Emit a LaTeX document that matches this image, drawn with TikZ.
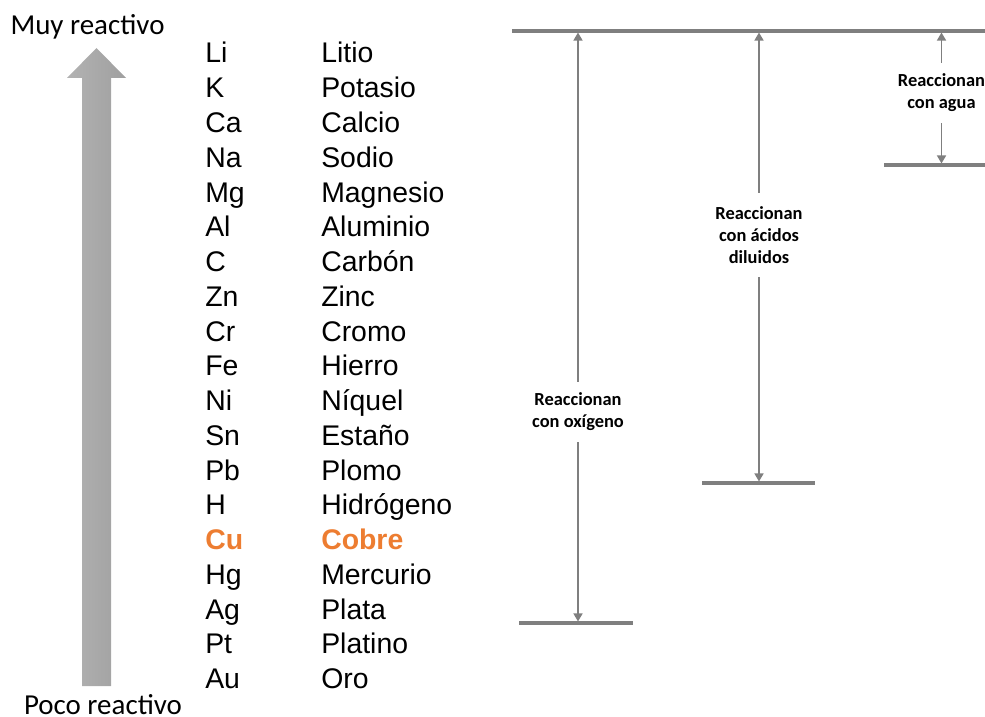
\documentclass[tikz,border=0pt]{standalone}
\usepackage{fontspec}
\setmainfont{Liberation Sans}
\newfontfamily\calibri{Carlito}
\usetikzlibrary{arrows.meta}

\definecolor{linegray}{HTML}{7F7F7F}
\definecolor{cuorange}{HTML}{ED7D31}

\tikzset{
  elem/.style={anchor=base west, inner sep=0pt, font=\fontsize{21.3}{25}\selectfont},
  elemcu/.style={elem, text=cuorange, font=\fontsize{21.3}{25}\selectfont\bfseries},
  side/.style={anchor=base, inner sep=0pt, font=\calibri\fontsize{21.7}{26}\selectfont},
  lab/.style={align=center, inner sep=0pt, font=\calibri\bfseries\fontsize{13.8}{16.4}\selectfont},
  bar/.style={draw=linegray, line width=2.3pt},
  conn/.style={draw=linegray, line width=1.1pt, -{Triangle[width=6.75pt, length=6pt]}},
}

\begin{document}
\begin{tikzpicture}[x=0.75pt, y=-0.75pt]
\useasboundingbox (0,0) rectangle (985,717);

% reactivity arrow
\shade[left color=gray!60, right color=gray!75]
  (82,686) -- (82,78) -- (67,78) -- (96.5,48) -- (126,78) -- (111,78) -- (111,686) -- cycle;
\node[side] (muy) at (87.5,35) {Muy reactivo};
\node[side] (poco) at (103,714) {Poco reactivo};

% reactivity series
\foreach \s/\n/\st [count=\i from 0] in {
  Li/Litio/elem, K/Potasio/elem, Ca/Calcio/elem, Na/Sodio/elem,
  Mg/Magnesio/elem, Al/Aluminio/elem, C/Carbón/elem, Zn/Zinc/elem,
  Cr/Cromo/elem, Fe/Hierro/elem, Ni/Níquel/elem, Sn/Estaño/elem,
  Pb/Plomo/elem, H/Hidrógeno/elem, Cu/Cobre/elemcu, Hg/Mercurio/elem,
  Ag/Plata/elem, Pt/Platino/elem, Au/Oro/elem} {
  \node[\st] (sym\i) at (205, 63+34.75*\i) {\s};
  \node[\st] (name\i) at (321, 63+34.75*\i) {\n};
}

% reference levels
\coordinate (topL) at (512,31);
\coordinate (topR) at (985,31);
\coordinate (oxL) at (519,623);
\coordinate (oxR) at (633,623);
\coordinate (acL) at (702,483);
\coordinate (acR) at (815,483);
\coordinate (agL) at (884,165);
\coordinate (agR) at (985,165);
\draw[bar] (topL) -- (topR);
\draw[bar] (oxL) -- (oxR);
\draw[bar] (acL) -- (acR);
\draw[bar] (agL) -- (agR);

% range labels
\node[lab, minimum height=45pt] (ox) at (578,412) {Reaccionan\\con oxígeno};
\node[lab, minimum height=63pt] (ac) at (759,235) {Reaccionan\\con ácidos\\diluidos};
\node[lab, minimum height=45pt] (ag) at (941.5,93) {Reaccionan\\con agua};

% range arrows
\draw[conn] (ox.north) -- ([yshift=-1.15pt]ox.north |- topL);
\draw[conn] (ox.south) -- ([yshift=1.15pt]ox.south |- oxL);
\draw[conn] (ac.north) -- ([yshift=-1.15pt]ac.north |- topL);
\draw[conn] (ac.south) -- ([yshift=1.15pt]ac.south |- acL);
\draw[conn] (ag.north) -- ([yshift=-1.15pt]ag.north |- topL);
\draw[conn] (ag.south) -- ([yshift=1.15pt]ag.south |- agL);
\end{tikzpicture}
\end{document}
